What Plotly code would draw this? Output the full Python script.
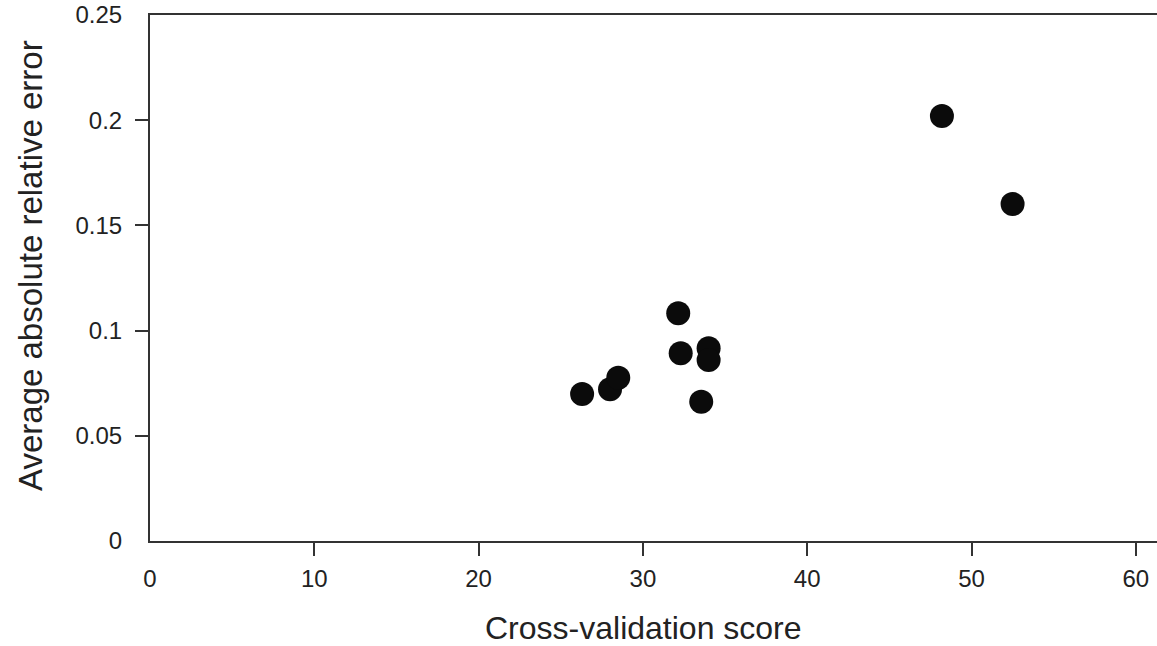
import plotly.graph_objects as go

# Cross-validation score vs. average absolute relative error
cv_score = [26.3, 28.0, 28.5, 32.15, 32.3, 33.55, 34.0, 34.0, 48.2, 52.5]
rel_error = [0.0699, 0.0721, 0.0776, 0.1082, 0.0892, 0.0662, 0.0916, 0.0860, 0.2020, 0.1602]

x_ticks = [0, 10, 20, 30, 40, 50, 60]
y_ticks = [0, 0.05, 0.1, 0.15, 0.2, 0.25]
y_tick_text = ["0", "0.05", "0.1", "0.15", "0.2", "0.25"]

FONT = "Liberation Sans, Arial, Helvetica, sans-serif"
INK = "#222222"
AXIS = "#333333"

fig = go.Figure()
fig.add_trace(go.Scatter(
    x=cv_score, y=rel_error, mode="markers",
    marker=dict(size=24, color="#0b0b0b", line=dict(width=0)),
    showlegend=False, hoverinfo="x+y",
))
# empty trace so the overlay axes (interior tick marks) get drawn
fig.add_trace(go.Scatter(
    x=[], y=[], xaxis="x2", yaxis="y2", mode="markers",
    showlegend=False, hoverinfo="skip",
))

fig.update_layout(
    width=1157, height=646,
    margin=dict(l=150, r=0, t=15, b=105),
    paper_bgcolor="white", plot_bgcolor="white",
    font=dict(family=FONT, color=INK),
    xaxis=dict(
        range=[0, 61.29], tickmode="array", tickvals=x_ticks,
        ticktext=[str(v) for v in x_ticks],
        ticks="", ticklabelstandoff=15,
        showline=True, linecolor=AXIS, linewidth=2, mirror=True,
        showgrid=False, zeroline=False,
        tickfont=dict(size=24, color=INK),
    ),
    yaxis=dict(
        range=[0, 0.25], tickmode="array", tickvals=y_ticks, ticktext=y_tick_text,
        ticks="", ticklabelstandoff=21,
        showline=True, linecolor=AXIS, linewidth=2,
        showgrid=False, zeroline=False,
        tickfont=dict(size=24, color=INK),
    ),
    # overlay axes carrying the tick marks for the interior values only
    xaxis2=dict(
        overlaying="x", matches="x", anchor="y", side="bottom",
        tickmode="array", tickvals=x_ticks[1:], ticks="outside", ticklen=14,
        tickwidth=2, tickcolor=AXIS, showticklabels=False,
        showline=False, showgrid=False, zeroline=False,
    ),
    yaxis2=dict(
        overlaying="y", matches="y", anchor="x", side="left",
        tickmode="array", tickvals=y_ticks[1:-1], ticks="outside", ticklen=14,
        tickwidth=2, tickcolor=AXIS, showticklabels=False,
        showline=False, showgrid=False, zeroline=False,
    ),
    annotations=[
        dict(text="Cross-validation score", xref="paper", yref="paper",
             x=0.4896, y=-0.1654, xanchor="center", yanchor="middle",
             showarrow=False, font=dict(size=32, color=INK)),
        dict(text="Average absolute relative error", xref="paper", yref="paper",
             x=-0.1192, y=0.5247, xanchor="center", yanchor="middle",
             textangle=-90, showarrow=False, font=dict(size=33, color=INK)),
    ],
)

fig.write_html("out.html")
